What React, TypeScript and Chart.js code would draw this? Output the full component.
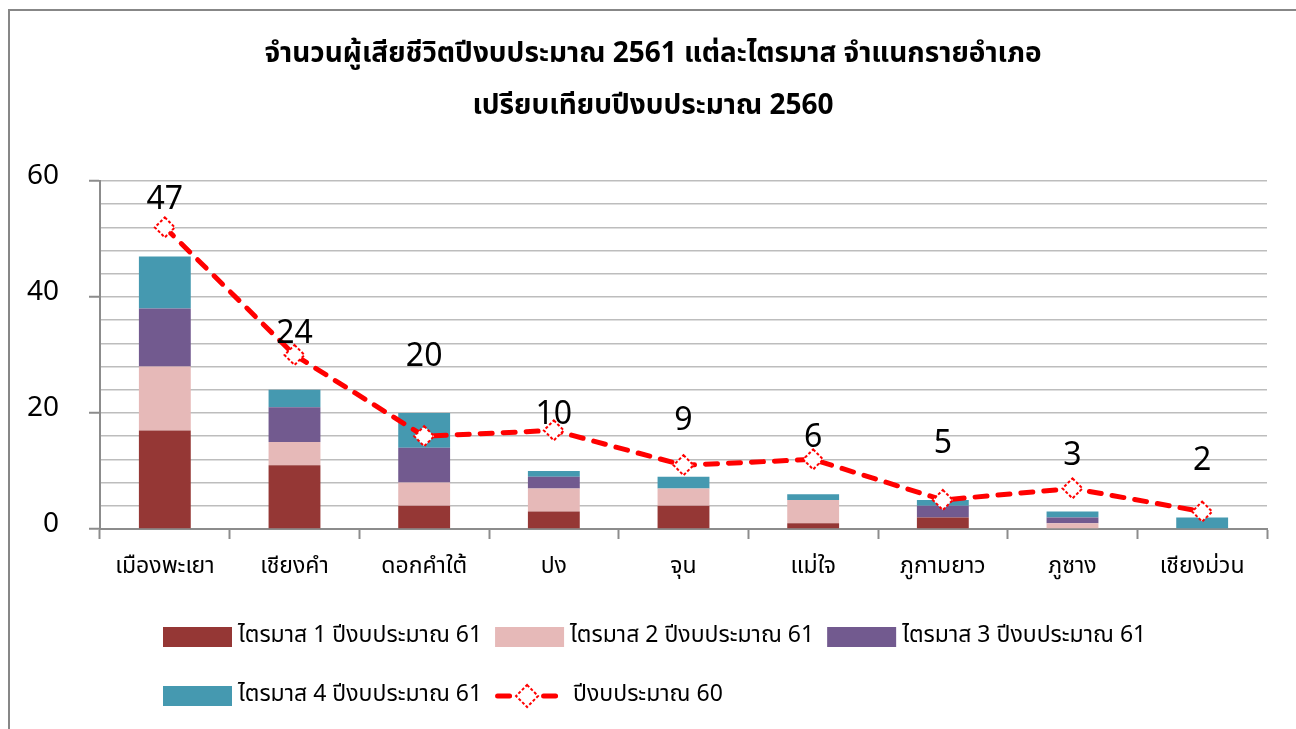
import React, { useEffect, useRef } from 'react';
import { Chart, registerables } from 'chart.js';

Chart.register(...registerables);

const titleLines = [
  'จำนวนผู้เสียชีวิตปีงบประมาณ 2561 แต่ละไตรมาส จำแนกรายอำเภอ',
  'เปรียบเทียบปีงบประมาณ 2560',
];
const categories = ['เมืองพะเยา', 'เชียงคำ', 'ดอกคำใต้', 'ปง', 'จุน', 'แม่ใจ', 'ภูกามยาว', 'ภูซาง', 'เชียงม่วน'];
const quarter1 = [17, 11, 4, 3, 4, 1, 2, 0, 0];
const quarter2 = [11, 4, 4, 4, 3, 4, 0, 1, 0];
const quarter3 = [10, 6, 6, 2, 0, 0, 2, 1, 0];
const quarter4 = [9, 3, 6, 1, 2, 1, 1, 1, 2];
const fiscal60 = [52, 30, 16, 17, 11, 12, 5, 7, 3];
const seriesLabels = [
  'ไตรมาส 1 ปีงบประมาณ 61',
  'ไตรมาส 2 ปีงบประมาณ 61',
  'ไตรมาส 3 ปีงบประมาณ 61',
  'ไตรมาส 4 ปีงบประมาณ 61',
  'ปีงบประมาณ 60',
];
const yMin = 0;
const yMax = 60;
const yStep = 4;
const yLabelStep = 20;

const totals = categories.map((_, i) => quarter1[i] + quarter2[i] + quarter3[i] + quarter4[i]);

const FONT = 'Tahoma, "Noto Sans Thai", "Noto Sans", "DejaVu Sans", sans-serif';
const RED = '#FF0000';

function drawDiamond(ctx: CanvasRenderingContext2D, x: number, y: number, r: number) {
  ctx.save();
  ctx.beginPath();
  ctx.moveTo(x, y - r);
  ctx.lineTo(x + r, y);
  ctx.lineTo(x, y + r);
  ctx.lineTo(x - r, y);
  ctx.closePath();
  ctx.fillStyle = '#FFFFFF';
  ctx.fill();
  ctx.setLineDash([3, 2]);
  ctx.lineWidth = 2;
  ctx.strokeStyle = RED;
  ctx.stroke();
  ctx.restore();
}

const overlayPlugin = {
  id: 'overlay',
  afterDatasetsDraw(chart: any) {
    const ctx: CanvasRenderingContext2D = chart.ctx;
    const xs = chart.scales.x;
    const ys = chart.scales.y;
    const lineMeta = chart.getDatasetMeta(4);
    lineMeta.data.forEach((pt: any) => drawDiamond(ctx, pt.x, pt.y, 10));
    ctx.save();
    ctx.font = `32px ${FONT}`;
    ctx.fillStyle = '#000000';
    ctx.textAlign = 'center';
    ctx.textBaseline = 'alphabetic';
    totals.forEach((t, i) => {
      ctx.fillText(String(t), xs.getPixelForValue(i), ys.getPixelForValue(t + 10) + 11);
    });
    ctx.restore();
  },
  afterDraw(chart: any) {
    const ctx: CanvasRenderingContext2D = chart.ctx;
    const w = chart.width;
    ctx.save();
    ctx.font = `bold 28px ${FONT}`;
    ctx.fillStyle = '#000000';
    ctx.textAlign = 'center';
    ctx.textBaseline = 'middle';
    ctx.fillText(titleLines[0], w / 2, 45);
    ctx.fillText(titleLines[1], w / 2, 97);
    ctx.restore();

    const ds = chart.data.datasets;
    const rows = [[0, 1, 2], [3, 4]];
    const rowY = [626, 685];
    const startX = 153;
    const boxW = 69;
    const boxH = 20;
    ctx.save();
    ctx.font = `23px ${FONT}`;
    ctx.textBaseline = 'middle';
    ctx.textAlign = 'left';
    rows.forEach((row, r) => {
      let x = startX;
      const cy = rowY[r];
      row.forEach((idx) => {
        const d = ds[idx];
        if (d.type === 'line') {
          ctx.save();
          ctx.strokeStyle = RED;
          ctx.lineWidth = 5;
          ctx.lineCap = 'round';
          ctx.beginPath();
          ctx.moveTo(x + 2.5, cy);
          ctx.lineTo(x + 14.5, cy);
          ctx.moveTo(x + 48.5, cy);
          ctx.lineTo(x + 60.5, cy);
          ctx.stroke();
          ctx.restore();
          drawDiamond(ctx, x + 32, cy, 11);
          x += 78;
        } else {
          ctx.fillStyle = d.backgroundColor;
          ctx.fillRect(x, cy - boxH / 2, boxW, boxH);
          x += boxW + 6;
        }
        ctx.fillStyle = '#000000';
        ctx.fillText(d.label, x, cy);
        x += ctx.measureText(d.label).width + 13;
      });
    });
    ctx.restore();
  },
};

export default function App() {
  const canvasRef = useRef<HTMLCanvasElement | null>(null);

  useEffect(() => {
    if (!canvasRef.current) return;
    const barCommon = {
      type: 'bar' as const,
      stack: 'q',
      order: 1,
      barPercentage: 0.4,
      categoryPercentage: 1,
      borderWidth: 0,
    };
    const chart = new Chart(canvasRef.current, {
      type: 'bar',
      data: {
        labels: categories,
        datasets: [
          { ...barCommon, label: seriesLabels[0], data: quarter1, backgroundColor: '#953735' },
          { ...barCommon, label: seriesLabels[1], data: quarter2, backgroundColor: '#E6B9B8' },
          { ...barCommon, label: seriesLabels[2], data: quarter3, backgroundColor: '#725A8F' },
          { ...barCommon, label: seriesLabels[3], data: quarter4, backgroundColor: '#4599B0' },
          {
            type: 'line' as const,
            label: seriesLabels[4],
            data: fiscal60,
            stack: 'line',
            order: 0,
            borderColor: RED,
            backgroundColor: RED,
            borderWidth: 5,
            borderDash: [12, 11],
            borderCapStyle: 'round',
            tension: 0,
            pointRadius: 0,
            fill: false,
          } as any,
        ],
      },
      options: {
        responsive: false,
        animation: false,
        devicePixelRatio: 1,
        layout: { padding: { top: 170, right: 29, bottom: 140, left: 0 } },
        plugins: {
          legend: { display: false },
          title: { display: false },
          tooltip: { enabled: false },
        },
        scales: {
          x: {
            stacked: true,
            border: { display: true, color: '#8C8C8C', width: 2 },
            grid: {
              display: true,
              drawOnChartArea: false,
              drawTicks: true,
              tickLength: 10,
              tickWidth: 2,
              tickColor: '#8C8C8C',
              offset: true,
            },
            ticks: {
              color: '#000000',
              font: { family: FONT, size: 23 },
              padding: 16,
              maxRotation: 0,
              autoSkip: false,
            },
            afterFit: (scale: any) => {
              scale.height = 60;
            },
          },
          y: {
            stacked: true,
            min: yMin,
            max: yMax,
            border: { display: true, color: '#8C8C8C', width: 2 },
            grid: {
              color: '#BDBDBD',
              lineWidth: 1.5,
              drawTicks: true,
              tickLength: 11,
              tickWidth: 2,
              tickColor: (c: any) => (c.tick && c.tick.value % yLabelStep === 0 ? '#8C8C8C' : 'rgba(0,0,0,0)'),
            },
            ticks: {
              stepSize: yStep,
              color: '#000000',
              font: { family: FONT, size: 28 },
              padding: 30,
              labelOffset: -3,
              autoSkip: false,
              callback: (v: any) => (Number(v) % yLabelStep === 0 ? String(v) : ''),
            },
            afterFit: (scale: any) => {
              scale.width = 90;
            },
          },
        },
      },
      plugins: [overlayPlugin],
    });
    return () => chart.destroy();
  }, []);

  return (
    <div style={{ position: 'fixed', left: 0, top: 0, width: 1296, height: 729, overflow: 'hidden', background: '#FFFFFF' }}>
      <div
        style={{
          position: 'absolute',
          left: 8,
          top: 9,
          width: 1400,
          height: 800,
          borderLeft: '2px solid #878787',
          borderTop: '2px solid #878787',
        }}
      />
      <canvas ref={canvasRef} width={1286} height={718} style={{ position: 'absolute', left: 10, top: 11 }} />
    </div>
  );
}
